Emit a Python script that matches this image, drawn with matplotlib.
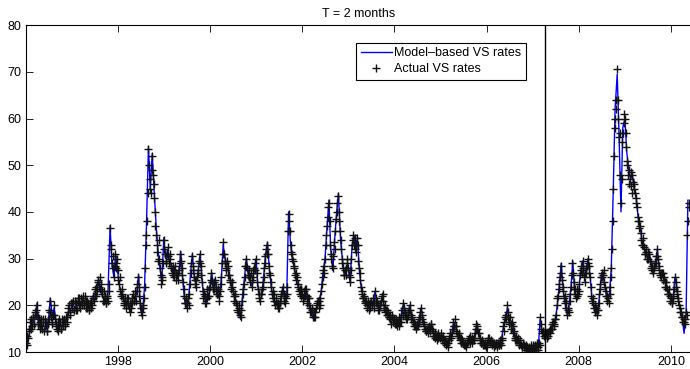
import numpy as np
import pandas as pd
import matplotlib
matplotlib.use("Agg")
import matplotlib.pyplot as plt

plt.rcParams['font.family'] = ['Liberation Sans', 'DejaVu Sans']

a1996 = [13.5, 11.5, 13.0, 15.0, 17.0, 15.5, 17.5, 16.0, 18.0, 20.0, 16.0, 15.0,
         17.0, 15.0, 16.5, 15.5, 16.5, 14.5, 17.0, 21.0, 17.5, 16.5, 20.0, 17.0,
         16.0, 14.5, 15.5, 16.5, 15.0, 16.5, 17.0, 15.5, 17.5, 18.5, 20.0, 18.5]
a1997 = [19.5, 21.0, 19.0, 20.5, 19.0, 21.0, 21.5, 19.5, 21.0, 22.0, 20.0, 21.0,
         19.5, 20.5, 19.0, 21.0, 20.0, 22.0, 22.0, 24.0, 23.0, 25.5, 23.5, 24.5,
         22.5, 21.0, 22.0, 20.5, 22.0, 23.0, 36.5, 32.0, 28.0, 26.0, 31.0, 28.0]
a1998 = [27.5, 24.5, 23.0, 22.5, 21.5, 20.0, 21.0, 20.0, 21.5, 19.5, 18.5, 20.5,
         22.5, 21.0, 22.0, 23.0, 26.0, 22.0, 19.5, 18.0, 20.0, 24.0, 33.0, 38.0,
         53.5, 47.0, 44.0, 52.0, 46.0, 40.0, 35.0, 31.5, 34.0, 28.0, 24.5, 25.5]
a1999 = [34.0, 31.0, 29.5, 32.5, 29.0, 30.0, 28.5, 26.5, 27.5, 28.5, 25.5, 27.0,
         27.5, 31.0, 28.0, 25.0, 22.0, 20.5, 19.5, 21.5, 22.5, 27.0, 30.5, 27.5,
         25.5, 24.0, 26.0, 27.5, 31.0, 28.5, 25.0, 21.5, 22.0, 20.5, 23.5, 22.0]
a2000 = [24.0, 27.0, 25.0, 23.5, 25.5, 24.0, 22.5, 21.0, 23.0, 26.0, 33.5, 31.0,
         29.5, 27.5, 28.5, 26.5, 25.0, 24.0, 23.0, 21.0, 22.0, 20.0, 18.5, 19.5,
         17.5, 21.0, 23.5, 26.0, 30.0, 28.0, 26.5, 25.0, 27.0, 24.0, 27.5, 29.0]
a2001 = [30.0, 25.0, 22.5, 21.0, 22.5, 24.0, 26.0, 30.5, 32.0, 33.0, 28.5, 26.5,
         24.0, 21.5, 22.5, 20.0, 21.5, 19.5, 19.5, 21.0, 22.5, 24.0, 21.0, 20.5,
         22.5, 36.0, 39.5, 33.0, 31.0, 29.5, 28.0, 25.5, 26.0, 24.0, 22.5, 23.5]
a2002 = [22.5, 21.0, 22.0, 23.5, 20.5, 21.5, 19.5, 18.5, 19.0, 17.5, 18.5, 19.5,
         20.0, 21.0, 20.0, 23.0, 26.0, 28.5, 30.0, 35.0, 39.0, 42.0, 33.0, 30.0,
         28.0, 33.5, 36.0, 40.0, 43.5, 38.0, 34.0, 30.0, 28.0, 26.5, 28.0, 29.0]
a2003 = [28.0, 25.0, 27.5, 33.0, 35.0, 32.0, 33.0, 34.5, 29.5, 27.0, 24.0, 22.5,
         21.5, 20.5, 21.0, 20.0, 19.0, 20.5, 21.0, 20.0, 19.5, 23.0, 20.5, 20.0,
         19.0, 20.0, 21.0, 22.5, 19.5, 18.5, 18.0, 18.5, 17.5, 17.0, 17.5, 16.5]
a2004 = [17.0, 16.0, 16.5, 16.5, 15.5, 16.5, 19.0, 20.5, 19.0, 18.0, 17.0, 18.5,
         20.0, 18.0, 17.5, 16.5, 15.5, 15.0, 16.0, 17.0, 17.5, 19.5, 17.0, 16.0,
         15.0, 14.5, 14.0, 15.5, 15.0, 16.0, 14.5, 13.5, 13.0, 13.5, 13.0, 13.5]
a2005 = [13.5, 13.0, 13.5, 12.0, 11.5, 12.0, 12.0, 13.0, 14.0, 14.0, 16.5, 15.5,
         15.5, 14.0, 13.5, 13.0, 12.0, 12.5, 12.0, 11.5, 11.0, 12.0, 13.0, 13.5,
         12.5, 12.0, 12.5, 14.0, 16.0, 15.0, 14.0, 12.5, 12.0, 12.0, 11.5, 11.5]
a2006 = [12.0, 12.5, 13.0, 12.0, 11.5, 12.0, 12.0, 11.5, 11.0, 12.0, 11.5, 12.0,
         13.0, 15.5, 16.5, 17.0, 20.0, 17.5, 16.5, 16.0, 16.5, 14.0, 13.0, 13.5,
         12.5, 12.0, 12.0, 11.5, 11.0, 11.5, 11.0, 10.5, 11.0, 11.0, 10.5, 11.0]
a2007 = [11.0, 10.5, 11.5, 11.5, 11.0, 12.0, 17.5, 15.0, 14.0, 13.5, 13.0, 14.0,
         14.0, 14.5, 14.0, 15.0, 16.5, 16.0, 17.0, 20.0, 22.0, 24.5, 28.5, 25.5,
         23.0, 20.5, 21.0, 18.0, 19.5, 21.0, 24.0, 29.0, 25.0, 22.5, 21.5, 23.5]
a2008 = [23.0, 26.5, 28.5, 29.5, 26.0, 27.0, 27.0, 30.0, 28.5, 26.0, 22.0, 20.5,
         19.5, 18.5, 19.0, 19.0, 22.5, 24.5, 27.0, 26.5, 25.0, 23.0, 21.0, 21.5,
         22.5, 26.0, 32.0, 45.0, 60.0, 64.0, 70.5, 60.0, 57.0, 42.0, 55.0, 59.0]
a2009 = [60.0, 54.0, 50.0, 49.0, 47.0, 45.5, 48.0, 45.0, 44.0, 43.0, 39.0, 38.0,
         37.0, 34.0, 33.0, 32.5, 31.0, 31.5, 30.0, 31.0, 29.5, 28.5, 27.0, 28.0,
         29.0, 32.0, 30.0, 27.5, 26.0, 27.0, 27.0, 25.0, 24.0, 23.5, 22.5, 22.0]
a2010 = [21.5, 20.5, 22.0, 26.0, 24.0, 22.5, 21.0, 19.5, 18.5, 17.5, 16.5, 17.0,
         18.5, 35.0, 42.0]

# second pass over the same band, on the 6th, 16th and 26th of each month
b1996 = [12.0, 13.5, 14.5, 16.5, 15.0, 17.5, 16.0, 18.5, 19.0, 17.5, 17.0, 16.5,
         15.5, 17.0, 14.5, 17.0, 14.5, 16.0, 19.0, 18.5, 16.0, 18.0, 18.0, 15.5,
         15.0, 16.5, 17.0, 15.0, 17.0, 15.5, 16.0, 17.5, 16.5, 19.5, 18.0, 20.5]
b1997 = [20.5, 19.0, 21.0, 19.0, 21.5, 20.0, 20.0, 21.5, 20.0, 20.5, 22.0, 19.5,
         21.0, 19.0, 20.5, 19.5, 21.5, 21.0, 23.5, 22.0, 25.0, 24.0, 26.0, 23.0,
         21.0, 23.0, 20.5, 21.5, 21.0, 24.5, 33.0, 29.0, 30.5, 28.5, 29.0, 30.0]
b1998 = [25.5, 26.0, 22.0, 23.5, 20.5, 21.5, 19.5, 21.5, 20.0, 20.5, 19.5, 21.5,
         21.0, 23.0, 21.0, 24.5, 24.0, 20.5, 18.5, 19.5, 21.5, 28.0, 35.0, 44.0,
         50.0, 45.0, 49.0, 48.0, 43.0, 37.0, 33.0, 29.5, 30.0, 26.5, 26.0, 29.0]
b1999 = [32.0, 29.0, 31.0, 30.5, 31.0, 28.0, 27.0, 28.5, 26.0, 27.0, 26.5, 25.5,
         29.0, 29.5, 26.5, 23.5, 20.5, 21.5, 20.5, 20.0, 24.5, 29.0, 28.5, 26.0,
         24.5, 25.5, 27.0, 29.5, 29.0, 26.5, 23.0, 22.5, 20.5, 21.5, 22.0, 23.5]
b2000 = [25.5, 25.0, 23.5, 25.0, 23.0, 22.5, 23.5, 22.0, 24.5, 29.0, 31.0, 29.0,
         28.0, 29.5, 26.5, 25.5, 23.5, 25.0, 22.0, 22.5, 20.5, 19.0, 20.0, 18.0,
         19.0, 22.5, 24.5, 28.5, 28.5, 26.5, 27.5, 26.0, 25.5, 26.0, 28.0, 27.5]
b2001 = [27.0, 23.5, 21.5, 22.5, 23.5, 25.0, 28.0, 29.0, 31.0, 31.0, 27.0, 25.0,
         22.5, 23.0, 21.0, 21.0, 20.0, 20.5, 20.5, 22.0, 23.0, 22.5, 22.0, 21.5,
         24.0, 38.0, 36.0, 31.5, 30.0, 28.5, 26.5, 27.0, 24.5, 23.0, 23.5, 22.0]
b2002 = [21.5, 23.0, 23.5, 22.0, 21.5, 20.0, 18.5, 19.5, 17.5, 18.5, 17.5, 20.5,
         21.0, 19.5, 21.5, 24.5, 27.5, 27.0, 33.0, 37.0, 41.0, 38.0, 31.0, 28.5,
         30.5, 32.0, 38.5, 42.0, 40.0, 36.0, 32.0, 29.0, 26.5, 27.5, 26.5, 30.0]
b2003 = [26.5, 26.0, 30.0, 34.0, 33.0, 34.5, 31.5, 33.0, 28.0, 25.5, 23.0, 21.5,
         22.0, 21.0, 19.5, 21.0, 20.0, 19.5, 20.0, 21.5, 21.0, 21.5, 21.0, 19.0,
         20.0, 21.0, 22.0, 21.0, 20.0, 19.0, 19.0, 17.5, 18.0, 16.0, 18.0, 17.0]
b2004 = [16.0, 17.0, 15.5, 17.5, 16.5, 17.5, 18.0, 19.5, 18.0, 17.0, 18.0, 19.0,
         19.0, 17.0, 16.5, 15.5, 16.0, 15.5, 15.5, 16.5, 18.5, 18.0, 16.5, 15.5,
         14.5, 15.0, 15.0, 14.5, 16.0, 15.0, 13.5, 14.0, 13.5, 12.5, 14.0, 13.0]
b2005 = [14.0, 12.5, 12.5, 12.5, 12.0, 11.0, 12.5, 13.5, 13.0, 15.0, 15.5, 17.0,
         14.5, 13.5, 14.0, 12.5, 13.0, 12.0, 11.5, 12.0, 12.0, 12.5, 12.5, 12.0,
         13.0, 12.5, 13.0, 15.0, 15.5, 14.0, 13.0, 12.0, 12.5, 11.5, 12.0, 11.0]
b2006 = [11.5, 13.0, 12.0, 12.5, 12.0, 11.0, 11.5, 12.0, 11.5, 11.5, 12.5, 11.5,
         12.5, 14.5, 17.5, 18.0, 18.5, 16.0, 17.5, 15.0, 15.5, 14.5, 12.5, 12.5,
         13.0, 11.5, 12.5, 11.0, 12.0, 11.0, 11.5, 11.0, 10.5, 10.5, 11.5, 10.5]
b2007 = [11.5, 11.0, 10.5, 12.0, 10.5, 11.5, 16.0, 14.0, 14.5, 14.5, 14.0, 13.0,
         13.5, 15.0, 15.0, 16.0, 15.5, 17.0, 18.0, 21.5, 23.5, 26.0, 27.0, 24.0,
         21.5, 22.0, 19.5, 19.0, 18.5, 22.5, 26.5, 27.0, 23.5, 23.5, 22.0, 22.5]
b2008 = [24.5, 27.5, 27.0, 28.0, 25.0, 28.0, 28.5, 29.0, 27.0, 24.0, 21.0, 21.5,
         20.0, 19.5, 18.0, 20.5, 23.5, 26.0, 26.0, 27.5, 24.0, 22.0, 22.0, 20.5,
         24.0, 28.0, 38.0, 52.0, 58.0, 62.0, 64.0, 56.0, 48.0, 47.0, 57.0, 61.0]
b2009 = [57.0, 51.0, 48.0, 46.0, 48.5, 44.0, 46.5, 46.0, 42.0, 41.0, 38.0, 36.5,
         35.5, 33.0, 34.5, 31.0, 32.0, 30.0, 31.5, 29.5, 28.0, 27.5, 28.5, 29.0,
         30.5, 30.5, 28.5, 26.5, 27.0, 25.5, 26.0, 24.0, 25.0, 22.5, 23.5, 21.0]
b2010 = [20.5, 21.5, 23.5, 25.0, 23.0, 21.5, 20.0, 18.5, 17.5, 16.5, 17.0, 16.0,
         18.0, 38.0, 41.0]

# model-based VS rates, read on the 1st and 15th of each month
m1996 = [14.0, 11.5, 14.0, 16.0, 17.0, 17.0, 20.5, 15.0, 16.5, 15.5, 15.5, 15.0,
         17.0, 21.5, 17.5, 19.5, 16.0, 15.0, 16.0, 15.5, 17.0, 16.5, 18.0, 19.0]
m1997 = [19.5, 20.0, 19.5, 20.5, 21.0, 20.0, 21.0, 20.5, 20.0, 19.5, 20.5, 21.5,
         22.5, 23.0, 25.5, 24.0, 22.0, 21.5, 20.5, 22.5, 37.0, 29.0, 26.0, 31.0]
m1998 = [27.0, 24.0, 22.5, 21.0, 20.5, 21.0, 19.5, 19.0, 22.0, 21.5, 23.0, 26.5,
         19.0, 18.0, 24.0, 36.0, 54.0, 45.0, 52.5, 45.0, 37.0, 32.0, 28.0, 25.0]
m1999 = [34.5, 30.0, 32.0, 29.5, 28.5, 27.0, 28.0, 26.0, 27.5, 31.5, 25.0, 21.0,
         19.5, 21.0, 27.0, 31.0, 25.5, 25.0, 27.5, 31.0, 25.0, 21.0, 20.5, 23.0]
m2000 = [24.0, 27.0, 23.5, 25.0, 22.5, 21.5, 26.0, 33.0, 30.0, 28.0, 27.0, 25.0,
         23.0, 21.5, 20.0, 19.0, 17.0, 22.0, 26.0, 30.0, 27.0, 25.0, 24.0, 27.5]
m2001 = [30.0, 24.0, 21.0, 22.0, 26.0, 30.5, 33.5, 28.0, 24.0, 21.5, 20.0, 21.0,
         19.5, 21.0, 24.0, 21.0, 22.5, 40.0, 33.0, 30.0, 28.0, 25.5, 24.0, 22.5]
m2002 = [22.5, 21.0, 23.5, 20.5, 19.5, 18.5, 17.0, 18.5, 20.0, 21.0, 23.0, 27.0,
         30.0, 36.0, 42.5, 32.0, 27.5, 34.0, 40.0, 44.0, 34.0, 30.0, 26.5, 28.0]
m2003 = [28.0, 25.0, 33.0, 35.0, 33.0, 34.0, 27.0, 23.5, 21.5, 20.5, 20.0, 19.5,
         21.0, 20.0, 23.0, 20.5, 19.0, 20.0, 22.5, 19.0, 18.0, 18.5, 17.0, 17.0]
m2004 = [17.0, 16.0, 16.5, 16.0, 19.0, 20.5, 18.0, 17.5, 20.0, 18.0, 16.5, 15.5,
         16.0, 17.0, 19.5, 17.0, 15.0, 14.5, 15.5, 15.5, 14.5, 13.5, 13.5, 13.0]
m2005 = [13.5, 13.0, 12.0, 11.5, 12.0, 13.0, 14.0, 16.5, 15.5, 14.0, 13.0, 12.0,
         12.0, 11.5, 12.0, 13.0, 12.5, 12.0, 14.0, 16.0, 14.0, 12.5, 12.0, 11.5]
m2006 = [12.0, 12.5, 12.0, 11.5, 12.0, 11.5, 12.0, 11.5, 13.0, 15.5, 17.0, 19.5,
         16.5, 16.0, 14.0, 13.0, 12.5, 12.0, 11.5, 11.0, 11.0, 10.5, 11.0, 10.5]
m2007 = [11.0, 10.5, 11.5, 11.0, 17.0, 14.5, 13.5, 13.5, 14.0, 14.5, 15.0, 16.5,
         17.0, 20.0, 24.5, 29.0, 23.0, 20.5, 18.0, 19.5, 24.0, 29.5, 22.5, 21.5]
m2008 = [23.0, 27.0, 29.5, 26.0, 27.0, 30.0, 26.0, 21.5, 19.5, 18.0, 19.0, 22.5,
         27.0, 26.0, 23.0, 21.0, 22.5, 28.0, 45.0, 62.0, 69.5, 57.0, 40.0, 58.0]
m2009 = [60.0, 53.0, 49.0, 47.0, 48.0, 45.0, 43.0, 39.0, 37.0, 34.0, 32.5, 31.0,
         30.0, 31.0, 28.5, 27.0, 29.0, 32.0, 27.5, 26.0, 27.0, 25.0, 23.5, 22.5]
m2010 = [21.5, 20.5, 26.0, 24.0, 21.0, 19.5, 17.0, 14.0, 18.5, 42.5]

months = pd.date_range("1996-01-01", "2010-05-01", freq="MS")
dates_a = [m + pd.Timedelta(days=d) for m in months for d in (0, 10, 20)]
dates_b = [m + pd.Timedelta(days=d) for m in months for d in (5, 15, 25)]
model_dates = pd.date_range("1996-01-01", "2010-05-15", freq="SMS")

actual_a = (a1996 + a1997 + a1998 + a1999 + a2000 + a2001 + a2002 + a2003
            + a2004 + a2005 + a2006 + a2007 + a2008 + a2009 + a2010)
actual_b = (b1996 + b1997 + b1998 + b1999 + b2000 + b2001 + b2002 + b2003
            + b2004 + b2005 + b2006 + b2007 + b2008 + b2009 + b2010)
actual_dates = dates_a + dates_b
actual = np.array(actual_a + actual_b)
model = np.array(m1996 + m1997 + m1998 + m1999 + m2000 + m2001 + m2002 + m2003
                 + m2004 + m2005 + m2006 + m2007 + m2008 + m2009 + m2010)

split_date = pd.Timestamp("2007-04-06")
tick_years = [1998, 2000, 2002, 2004, 2006, 2008, 2010]

fig = plt.figure(figsize=(6.9, 3.69), dpi=100)
ax = fig.add_axes([0.037, 0.046, 0.9667, 0.886])

ax.plot(model_dates, model, color="#0000ff", lw=1.0, label="Model\u2013based VS rates")
ax.plot(actual_dates, actual, "+", color="#111111", ms=6, mew=1.0, label="Actual VS rates")
ax.axvline(split_date, color="k", lw=1.0)

ax.set_xlim(pd.Timestamp("1996-01-01"), pd.Timestamp("2010-06-21"))
ax.set_ylim(10, 80)
ax.set_yticks(range(10, 90, 10))
ax.set_xticks([pd.Timestamp(f"{y}-01-01") for y in tick_years])
ax.set_xticklabels([str(y) for y in tick_years])
ax.tick_params(direction="in", top=True, length=5, width=0.6, labelsize=9, pad=3)
ax.spines["right"].set_visible(False)
for s in ["left", "top", "bottom"]:
    ax.spines[s].set_linewidth(0.8)

ax.set_title("T = 2 months", fontsize=9, pad=6)
leg = ax.legend(loc="upper right", bbox_to_anchor=(0.750, 0.945), borderaxespad=0,
                fancybox=False, edgecolor="k", framealpha=1, fontsize=9,
                handlelength=2.5, handletextpad=0.2, borderpad=0.35, labelspacing=0.3)
leg.get_frame().set_linewidth(0.8)

fig.savefig("out.png", dpi=100)
